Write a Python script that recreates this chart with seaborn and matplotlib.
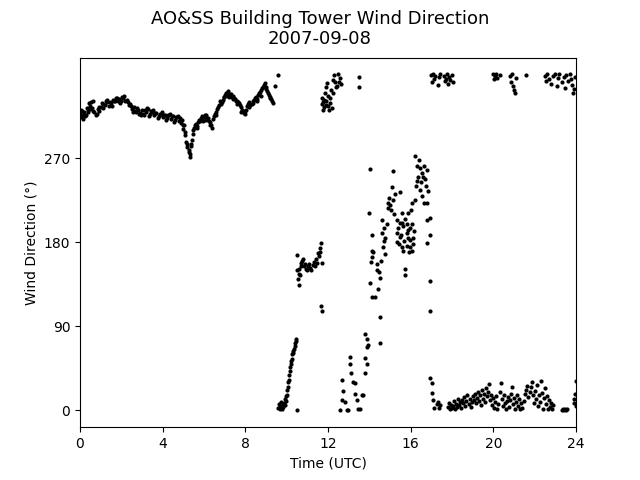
import matplotlib
matplotlib.use("Agg")
import matplotlib.pyplot as plt
import seaborn as sns
import pandas as pd

# Morning westerly-northwesterly trace (hours UTC, degrees)
hours_morning = [0.0, 0.05, 0.1, 0.15, 0.2, 0.3, 0.35, 0.4, 0.45, 0.5, 0.55, 0.6, 0.65, 0.7, 0.8, 0.85, 0.9, 1.0, 1.05, 1.1,
                 1.2, 1.25, 1.3, 1.4, 1.45, 1.5, 1.6, 1.65, 1.7, 1.8, 1.85, 1.9, 2.0, 2.05, 2.1, 2.2, 2.25, 2.3, 2.4, 2.45,
                 2.5, 2.6, 2.65, 2.7, 2.8, 2.85, 2.9, 3.0, 3.05, 3.1, 3.2, 3.25, 3.3, 3.4, 3.45, 3.5, 3.6, 3.65, 3.7, 3.8,
                 3.85, 3.9, 4.0, 4.05, 4.1, 4.2, 4.25, 4.3, 4.4, 4.45, 4.5, 4.6, 4.65, 4.7, 4.8, 4.85, 4.9, 4.95, 5.0, 5.05,
                 5.1, 5.15, 5.2, 5.25, 5.3, 5.33, 5.36, 5.4, 5.45, 5.5, 5.55, 5.6, 5.65, 5.7, 5.75, 5.8, 5.85, 5.9, 5.95, 6.0,
                 6.05, 6.1, 6.15, 6.2, 6.25, 6.3, 6.35, 6.4, 6.45, 6.5, 6.55, 6.6, 6.65, 6.7, 6.75, 6.8, 6.85, 6.9, 6.95, 7.0,
                 7.05, 7.1, 7.15, 7.2, 7.25, 7.3, 7.35, 7.4, 7.45, 7.5, 7.55, 7.6, 7.65, 7.7, 7.75, 7.8, 7.85, 7.9, 7.95, 8.0,
                 8.05, 8.1, 8.15, 8.2, 8.25, 8.3, 8.35, 8.4, 8.45, 8.5, 8.55, 8.6, 8.65, 8.7, 8.75, 8.8, 8.85, 8.9, 8.95, 9.0,
                 9.05, 9.1, 9.15, 9.2, 9.25, 9.3, 9.35, 9.45, 9.58]
dir_morning = [318, 314, 321, 316, 320, 317, 324, 322, 329, 326, 330, 324, 321, 320, 318, 323, 325, 325, 329, 328,
               327, 331, 330, 326, 330, 329, 333, 331, 331, 335, 332, 334, 332, 336, 335, 331, 333, 330, 328, 326,
               323, 325, 321, 320, 322, 318, 319, 322, 318, 317, 320, 324, 323, 318, 321, 320, 316, 319, 319, 315,
               318, 318, 314, 317, 317, 313, 316, 316, 312, 315, 315, 311, 314, 314, 310, 313, 308, 311, 302, 306,
               295, 288, 282, 277, 272, 275, 283, 290, 300, 303, 306, 307, 305, 309, 311, 310, 313, 312, 310, 314,
               316, 316, 313, 313, 310, 309, 306, 303, 312, 315, 318, 320, 323, 325, 327, 328, 330, 333, 336, 338,
               340, 340, 337, 336, 339, 339, 336, 337, 335, 334, 332, 332, 330, 329, 327, 325, 322, 321, 319, 318,
               322, 326, 328, 330, 327, 328, 331, 333, 335, 336, 334, 338, 340, 341, 343, 345, 347, 349, 351, 344,
               342, 340, 338, 336, 334, 332, 329, 348, 359]

# Additional morning samples (scatter about the trace)
hours_morning_b = [0.03, 0.13, 0.25, 0.38, 0.48, 0.63, 0.75, 0.93, 1.13, 1.33, 1.53, 1.73, 1.95, 2.15, 2.35, 2.55,
                   2.75, 2.95, 3.15, 3.35, 3.55, 3.75, 3.95, 4.15, 4.35, 4.55, 4.75, 4.98, 5.08, 5.18, 5.28, 5.38,
                   5.48, 5.68, 5.88, 6.08, 6.28, 6.58, 6.78, 6.98, 7.18, 7.38, 7.58, 7.78, 7.98, 8.18, 8.38, 8.58,
                   8.78, 8.98, 9.18]
dir_morning_b = [322, 312, 315, 320, 323, 331, 316, 321, 324, 333, 326, 335, 329, 337, 327, 320,
                 324, 316, 322, 315, 322, 313, 320, 311, 318, 309, 315, 306, 298, 285, 279, 285,
                 296, 303, 315, 311, 306, 317, 331, 336, 342, 334, 328, 320, 321, 325, 329, 332,
                 337, 346, 335]

# Late-morning veer through north to south-southeast
hours_veer = [9.6, 9.63, 9.66, 9.7, 9.73, 9.76, 9.8, 9.83, 9.86, 9.9, 9.93, 9.95, 9.98, 10.0, 10.03, 10.05, 10.08, 10.1,
              10.13, 10.15, 10.18, 10.2, 10.23, 10.25, 10.28, 10.3, 10.33, 10.35, 10.38, 10.4, 10.43, 10.45, 10.5,
              10.5, 10.52, 10.55, 10.58, 10.6, 10.62, 10.65, 10.68, 10.7, 10.75, 10.8, 10.85, 10.9, 10.95, 11.0, 11.05,
              11.1, 11.15, 11.2, 11.25, 11.3, 11.35, 11.4, 11.45, 11.5, 11.55, 11.6, 11.63, 11.66, 11.68, 11.7, 11.7]
dir_veer = [3, 7, 1, 5, 9, 2, 6, 4, 8, 6, 12, 10, 15, 17, 22, 25, 30, 33, 38, 42, 46, 50, 53, 55, 60, 62, 64, 66, 69,
            72, 74, 77, 0,
            166, 150, 141, 146, 134, 152, 145, 155, 158, 160, 162, 155, 157, 152, 150, 155, 157, 153, 150, 156, 159,
            155, 162, 158, 169, 165, 174, 170, 179, 112, 106, 158]

# Midday scatter near north
hours_north1 = [11.7, 11.72, 11.75, 11.78, 11.8, 11.82, 11.85, 11.88, 11.9, 11.92, 11.95, 12.0, 12.02, 12.05, 12.1,
                12.12, 12.15, 12.2, 12.22, 12.25, 12.3, 12.35, 12.4, 12.45, 12.5, 12.55, 12.6, 12.65, 13.5, 13.52]
dir_north1 = [335, 328, 330, 322, 325, 333, 340, 327, 346, 332, 351, 337, 326, 322, 329, 335, 343, 324, 340, 354,
              359, 352, 346, 348, 360, 352, 356, 350, 357, 347]

# Afternoon: light and variable, backing from north to west
hours_aft = [12.58, 12.68, 12.68, 12.73, 12.82, 12.92, 12.97, 13.06, 13.06, 13.11, 13.21, 13.31, 13.31, 13.4, 13.45,
             13.55, 13.64, 13.69, 13.79, 13.79, 13.79, 13.89, 13.89, 13.89, 13.94, 13.98, 14.03, 14.03, 14.08, 14.13,
             14.13, 14.13, 14.13, 14.2, 14.27, 14.37, 14.37, 14.4, 14.45, 14.5, 14.52, 14.52, 14.55, 14.61, 14.61,
             14.65, 14.7, 14.7, 14.76, 14.76, 14.85, 14.9, 14.9, 14.95, 15.0, 15.05, 15.1, 15.14, 15.15, 15.2, 15.24,
             15.34, 15.34, 15.34, 15.4, 15.45, 15.48, 15.48, 15.48, 15.55, 15.58, 15.58, 15.6, 15.63, 15.65, 15.7,
             15.73, 15.73, 15.75, 15.8, 15.82, 15.82, 15.85, 15.87, 15.87, 15.9, 15.95, 15.97, 15.97, 16.0, 16.05,
             16.06, 16.06, 16.1, 16.11, 16.15, 16.2, 16.21, 16.25, 16.3, 16.31, 16.35, 16.4, 16.45, 16.45, 16.5,
             16.55, 16.55, 16.6, 16.65, 16.65, 16.7, 16.75, 16.79, 16.79, 16.79, 16.79, 16.85, 16.94, 16.94, 16.94,
             16.94, 16.94, 17.03, 17.03, 17.08, 17.15, 17.27, 17.32, 17.38, 17.42]
dir_aft = [0, 33, 11, 21, 9, 0, 0, 57, 50, 40, 30, 29, 18, 11, 2, 2, 16, 16, 82, 56, 40, 77, 68, 50, 70, 211, 259, 136,
           159, 188, 171, 164, 121, 170, 122, 157, 150, 130, 148, 142, 100, 72, 160, 204, 190, 175, 195, 182, 185,
           168, 200, 222, 217, 228, 220, 215, 239, 257, 225, 210, 232, 204, 190, 180, 195, 178, 234, 201, 186, 188,
           175, 201, 212, 171, 198, 182, 152, 145, 205, 176, 200, 190, 193, 211, 185, 170, 183, 175, 195, 215, 200,
           222, 171, 178, 185, 192, 225, 273, 240, 262, 246, 250, 268, 236, 260, 245, 254, 230, 250, 262, 222, 248,
           240, 204, 179, 222, 258, 235, 206, 188, 139, 106, 35, 29, 19, 11, 3, 7, 9, 3, 6]

# Evening: oscillating about north
hours_north2 = [17.0, 17.05, 17.1, 17.15, 17.2, 17.3, 17.35, 17.4, 17.6, 17.65, 17.7, 17.75, 17.8, 17.85, 17.9, 18.0,
                18.05, 20.0, 20.05, 20.1, 20.15, 20.2, 20.3, 20.8, 20.85, 20.9, 20.95, 21.0, 21.05, 21.1, 21.6,
                22.5, 22.55, 22.6, 22.7, 22.8, 22.9, 23.0, 23.1, 23.15, 23.2, 23.3, 23.4, 23.45, 23.5, 23.6, 23.7,
                23.75, 23.8, 23.85, 23.9, 23.95]
dir_north2 = [359, 352, 360, 355, 358, 349, 357, 360, 358, 353, 355, 360, 350, 357, 354, 359,
              352, 360, 355, 358, 360, 356, 359, 358, 352, 360, 348, 343, 340, 356, 359,
              358, 353, 360, 355, 350, 358, 360, 348, 356, 360, 352, 357, 345, 359, 353, 360,
              355, 349, 340, 344, 357]

hours_eve = [17.8, 17.85, 17.9, 17.95, 18.0, 18.05, 18.1, 18.15, 18.2, 18.25, 18.3, 18.35, 18.4, 18.45, 18.5, 18.55,
             18.6, 18.65, 18.7, 18.75, 18.8, 18.85, 18.9, 18.95, 19.0, 19.05, 19.1, 19.15, 19.2, 19.25, 19.3, 19.35,
             19.4, 19.45, 19.5, 19.55, 19.6, 19.65, 19.7, 19.75, 19.8, 19.85, 19.9, 19.95, 20.0, 20.05, 20.1, 20.15,
             20.2, 20.25, 20.3, 20.35, 20.4, 20.45, 20.5, 20.55, 20.6, 20.65, 20.7, 20.75, 20.8, 20.85, 20.9, 20.95,
             21.0, 21.05, 21.1, 21.15, 21.2, 21.25, 21.3, 21.35, 21.4, 21.5, 21.55, 21.6, 21.65, 21.7, 21.75, 21.8,
             21.85, 21.9, 21.95, 22.0, 22.05, 22.1, 22.15, 22.2, 22.25, 22.3, 22.35, 22.4, 22.45, 22.5, 22.55, 22.6,
             22.65, 22.7, 22.75, 22.8, 22.85, 22.9, 23.3, 23.35, 23.4, 23.45, 23.5, 23.55, 23.9, 23.92, 23.95, 23.98,
             24.0]
dir_eve = [4, 8, 2, 6, 3, 5, 10, 2, 7, 4, 12, 6, 9, 3, 11, 8,
           14, 5, 10, 16, 7, 12, 4, 9, 15, 11, 18, 8, 13, 20, 10, 16,
           6, 22, 12, 18, 9, 24, 15, 20, 28, 11, 17, 6, 13, 3, 9, 15,
           1, 7, 20, 29, 12, 5, 16, 8, 2, 10, 14, 4, 11, 18, 25, 7,
           13, 2, 9, 16, 5, 12, 1, 8, 3, 10, 18, 22, 26, 14, 20, 25,
           30, 17, 8, 21, 12, 27, 5, 16, 9, 32, 19, 2, 13, 24, 7, 15,
           1, 11, 4, 8, 2, 6, 0, 1, 0, 2, 0, 1, 8, 12, 18, 5,
           32]

df = pd.DataFrame({
    "hour": hours_morning + hours_morning_b + hours_veer + hours_north1 + hours_aft + hours_north2 + hours_eve,
    "wdir": dir_morning + dir_morning_b + dir_veer + dir_north1 + dir_aft + dir_north2 + dir_eve,
})

fig, ax = plt.subplots(figsize=(6.4, 4.8), dpi=100)
sns.scatterplot(data=df, x="hour", y="wdir", ax=ax, color="black", s=9, linewidth=0, legend=False)
ax.set_xlim(0, 24)
ax.set_ylim(-18, 378)
ax.set_xticks([0, 4, 8, 12, 16, 20, 24])
ax.set_yticks([0, 90, 180, 270])
ax.set_xlabel("Time (UTC)")
ax.set_ylabel("Wind Direction (°)")
fig.suptitle("AO&SS Building Tower Wind Direction\n2007-09-08", fontsize=13)
fig.savefig("out.png", dpi=100)
